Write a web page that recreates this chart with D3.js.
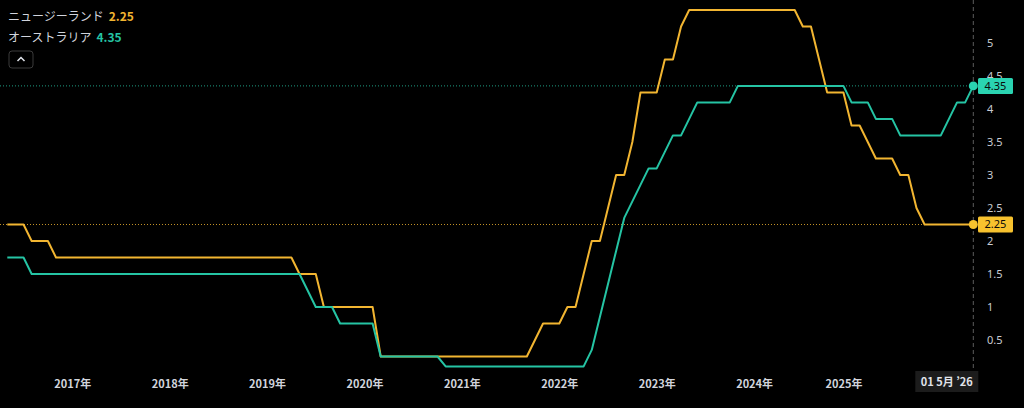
<!DOCTYPE html>
<html lang="ja">
<head>
<meta charset="UTF-8">
<title>政策金利 ニュージーランド / オーストラリア</title>
<style>
  html, body { margin: 0; padding: 0; background: #000; }
  body { width: 1024px; height: 408px; overflow: hidden; font-family: "Noto Sans CJK JP", "Noto Sans", sans-serif; }
  svg { display: block; }
</style>
</head>
<body>
<div id="chart"></div>
<script src="https://d3js.org/d3.v7.min.js"></script>
<script>
// monthly bars, May 2016 .. May 2026 (one bar missing in 2024)
const firstMonth = new Date(2016, 4, 1);
const lastMonth = new Date(2026, 4, 1);
const missingMonth = "2024-05";

// ニュージーランド, one value per bar, year by year
const nzRates = [
  2.25, 2.25, 2.25, 2.0, 2.0, 2.0, 1.75, 1.75,                       // 2016 (May-)
  1.75, 1.75, 1.75, 1.75, 1.75, 1.75, 1.75, 1.75, 1.75, 1.75, 1.75, 1.75, // 2017
  1.75, 1.75, 1.75, 1.75, 1.75, 1.75, 1.75, 1.75, 1.75, 1.75, 1.75, 1.75, // 2018
  1.75, 1.75, 1.75, 1.75, 1.5, 1.5, 1.5, 1.0, 1.0, 1.0, 1.0, 1.0,         // 2019
  1.0, 1.0, 0.25, 0.25, 0.25, 0.25, 0.25, 0.25, 0.25, 0.25, 0.25, 0.25,   // 2020
  0.25, 0.25, 0.25, 0.25, 0.25, 0.25, 0.25, 0.25, 0.25, 0.5, 0.75, 0.75,  // 2021
  0.75, 1.0, 1.0, 1.5, 2.0, 2.0, 2.5, 3.0, 3.0, 3.5, 4.25, 4.25,          // 2022
  4.25, 4.75, 4.75, 5.25, 5.5, 5.5, 5.5, 5.5, 5.5, 5.5, 5.5, 5.5,         // 2023
  5.5, 5.5, 5.5, 5.5, 5.5, 5.5, 5.25, 5.25, 4.75, 4.25, 4.25,             // 2024
  4.25, 3.75, 3.75, 3.5, 3.25, 3.25, 3.25, 3.0, 3.0, 2.5, 2.25, 2.25,     // 2025
  2.25, 2.25, 2.25, 2.25, 2.25                                            // 2026
];

// オーストラリア
const auRates = [
  1.75, 1.75, 1.75, 1.5, 1.5, 1.5, 1.5, 1.5,                              // 2016 (May-)
  1.5, 1.5, 1.5, 1.5, 1.5, 1.5, 1.5, 1.5, 1.5, 1.5, 1.5, 1.5,             // 2017
  1.5, 1.5, 1.5, 1.5, 1.5, 1.5, 1.5, 1.5, 1.5, 1.5, 1.5, 1.5,             // 2018
  1.5, 1.5, 1.5, 1.5, 1.5, 1.25, 1.0, 1.0, 1.0, 0.75, 0.75, 0.75,         // 2019
  0.75, 0.75, 0.25, 0.25, 0.25, 0.25, 0.25, 0.25, 0.25, 0.25, 0.1, 0.1,   // 2020
  0.1, 0.1, 0.1, 0.1, 0.1, 0.1, 0.1, 0.1, 0.1, 0.1, 0.1, 0.1,             // 2021
  0.1, 0.1, 0.1, 0.1, 0.35, 0.85, 1.35, 1.85, 2.35, 2.6, 2.85, 3.1,       // 2022
  3.1, 3.35, 3.6, 3.6, 3.85, 4.1, 4.1, 4.1, 4.1, 4.1, 4.35, 4.35,         // 2023
  4.35, 4.35, 4.35, 4.35, 4.35, 4.35, 4.35, 4.35, 4.35, 4.35, 4.35,       // 2024
  4.35, 4.1, 4.1, 4.1, 3.85, 3.85, 3.85, 3.6, 3.6, 3.6, 3.6, 3.6,         // 2025
  3.6, 3.85, 4.1, 4.1, 4.35                                               // 2026
];

const yTicks = [0.5, 1, 1.5, 2, 2.5, 3, 3.5, 4, 4.5, 5];
const cursorLabel = "01 5月 ’26";

const series = [
  { name: "ニュージーランド", values: nzRates, color: "#f2b531", tag: "#f7c22e" },
  { name: "オーストラリア", values: auRates, color: "#25c4a4", tag: "#2ad3b1" }
];

const width = 1024, height = 408;
const fmtKey = d3.timeFormat("%Y-%m");
const months = d3.timeMonth.range(firstMonth, d3.timeMonth.offset(lastMonth, 1))
  .map(fmtKey)
  .filter(k => k !== missingMonth);

const x = d3.scalePoint().domain(months).range([7.3, 973.3]);
const y = d3.scaleLinear().domain([0, 5]).range([373, 43]);

const svg = d3.select("#chart").append("svg")
  .attr("width", width)
  .attr("height", height)
  .style("background", "#000");

const lastKey = months[months.length - 1];
const xLast = x(lastKey);

// crosshair
svg.append("line")
  .attr("x1", xLast).attr("x2", xLast)
  .attr("y1", 0).attr("y2", 370)
  .attr("stroke", "#5d5d5d")
  .attr("stroke-dasharray", "4,3");

// price lines
series.forEach(s => {
  const last = s.values[s.values.length - 1];
  svg.append("line")
    .attr("x1", 0).attr("x2", xLast)
    .attr("y1", y(last)).attr("y2", y(last))
    .attr("stroke", s.color)
    .attr("stroke-opacity", 0.8)
    .attr("stroke-dasharray", "1,2");
});

const line = d3.line()
  .x((d, i) => x(months[i]))
  .y(d => y(d));

series.forEach(s => {
  svg.append("path")
    .datum(s.values)
    .attr("fill", "none")
    .attr("stroke", s.color)
    .attr("stroke-width", 2)
    .attr("stroke-linejoin", "round")
    .attr("d", line);
});

// end points
series.forEach(s => {
  svg.append("circle")
    .attr("cx", xLast)
    .attr("cy", y(s.values[s.values.length - 1]))
    .attr("r", 4.5)
    .attr("fill", s.tag);
});

// right axis
const yAxis = svg.append("g")
  .attr("transform", "translate(983,0)")
  .call(d3.axisRight(y).tickValues(yTicks).tickSize(0).tickPadding(4).tickFormat(d3.format("")));
yAxis.select(".domain").remove();
yAxis.selectAll("text")
  .attr("fill", "#c9ccd3")
  .style("font-size", "11px")
  .style("font-family", "'Noto Sans', sans-serif");

// crosshair date tag geometry (year labels under it are hidden)
const tagW = 63;
const tagX = xLast + 5 - tagW;

// bottom axis: one label per January
const yearTicks = months.filter(k => k.endsWith("-01") && x(k) + 20 < tagX);
const xAxis = svg.append("g")
  .attr("transform", "translate(0,373)")
  .call(d3.axisBottom(x).tickValues(yearTicks).tickSize(0).tickPadding(7)
    .tickFormat(k => k.slice(0, 4) + "年"));
xAxis.select(".domain").remove();
xAxis.selectAll("text")
  .attr("fill", "#d1d4dc")
  .style("font-size", "11px")
  .style("font-weight", "bold")
  .style("font-family", "'Noto Sans CJK JP', sans-serif");

// price tags on the axis
series.forEach(s => {
  const v = s.values[s.values.length - 1];
  const g = svg.append("g").attr("transform", `translate(978,${y(v)})`);
  g.append("rect")
    .attr("x", 0).attr("y", -8)
    .attr("width", 35).attr("height", 16)
    .attr("rx", 1.5)
    .attr("fill", s.tag);
  g.append("text")
    .attr("x", 17.5).attr("y", 0)
    .attr("dy", "0.35em")
    .attr("text-anchor", "middle")
    .attr("fill", "#0a0a0a")
    .style("font-size", "11px")
    .style("font-family", "'Noto Sans', sans-serif")
    .text(d3.format(".2f")(v));
});

// crosshair date tag
const dateTag = svg.append("g").attr("transform", `translate(${tagX},371)`);
dateTag.append("rect")
  .attr("width", tagW).attr("height", 21)
  .attr("fill", "#1c1c1c");
dateTag.append("text")
  .attr("x", tagW / 2).attr("y", 11)
  .attr("dy", "0.35em")
  .attr("text-anchor", "middle")
  .attr("fill", "#e0e3ea")
  .style("font-size", "11px")
  .style("font-weight", "bold")
  .style("font-family", "'Noto Sans CJK JP', sans-serif")
  .text(cursorLabel);

// legend
const legend = svg.append("g").attr("transform", "translate(8,0)");
series.forEach((s, i) => {
  const t = legend.append("text")
    .attr("x", 0)
    .attr("y", 17 + i * 21)
    .attr("dy", "0.35em")
    .style("font-size", "12px")
    .style("font-family", "'Noto Sans CJK JP', sans-serif");
  t.append("tspan").attr("fill", "#d1d4dc").text(s.name);
  t.append("tspan").attr("dx", 5).attr("fill", s.color).attr("font-weight", "bold")
    .text(d3.format(".2f")(s.values[s.values.length - 1]));
});

// collapse button
const btn = svg.append("g").attr("transform", "translate(9,51)");
btn.append("rect")
  .attr("width", 24).attr("height", 17)
  .attr("rx", 3)
  .attr("fill", "#000")
  .attr("stroke", "#3a3a3a");
btn.append("path")
  .attr("d", "M8.5,10 L12,6.5 L15.5,10")
  .attr("fill", "none")
  .attr("stroke", "#e0e3ea")
  .attr("stroke-width", 1.5);
</script>
</body>
</html>
